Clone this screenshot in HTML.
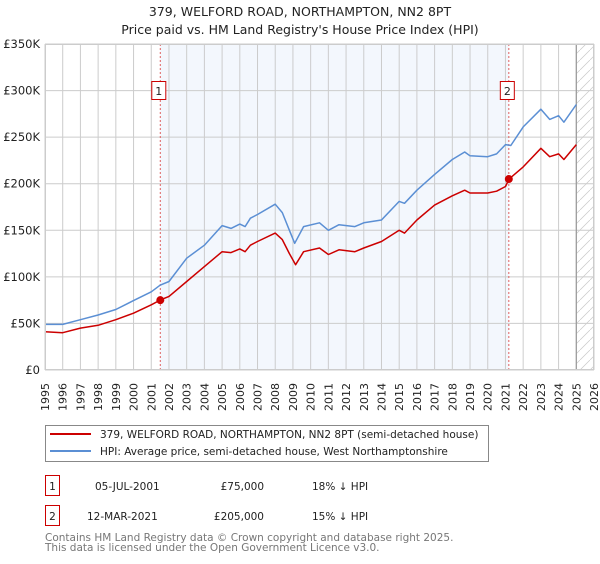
<!DOCTYPE html>
<html><head><meta charset="utf-8"><style>
body{margin:0;background:#fff;font-family:"DejaVu Sans","Liberation Sans",sans-serif;}
svg text{font-family:"DejaVu Sans","Liberation Sans",sans-serif;}
</style></head><body>
<svg id="chart" width="600" height="560" xmlns="http://www.w3.org/2000/svg">
<defs><pattern id="hatch" patternUnits="userSpaceOnUse" width="10" height="10"><path d="M0,10 L10,0" stroke="#c8c8c8" stroke-width="0.7"/></pattern></defs>
<text x="300" y="16" text-anchor="middle" font-size="12.5" fill="#222">379, WELFORD ROAD, NORTHAMPTON, NN2 8PT</text>
<text x="300" y="34" text-anchor="middle" font-size="12.5" fill="#222">Price paid vs. HM Land Registry's House Price Index (HPI)</text>
<g id="plot"></g>
<g id="legend">
<rect x="45.5" y="425.5" width="443" height="36" fill="#fff" stroke="#888"/>
<line x1="50" y1="434" x2="91" y2="434" stroke="#cc0000" stroke-width="2"/>
<text x="100" y="438" font-size="10.5" fill="#222">379, WELFORD ROAD, NORTHAMPTON, NN2 8PT (semi-detached house)</text>
<line x1="50" y1="451" x2="91" y2="451" stroke="#5b8fd4" stroke-width="2"/>
<text x="100" y="455" font-size="10.5" fill="#222">HPI: Average price, semi-detached house, West Northamptonshire</text>
</g>
<g font-size="10.5" fill="#222">
<rect x="45.5" y="475.5" width="14" height="20" fill="#fff" stroke="#cc0000"/>
<text x="52.5" y="490" text-anchor="middle">1</text>
<text x="95" y="490">05-JUL-2001</text>
<text x="264" y="490" text-anchor="end">£75,000</text>
<text x="312" y="490">18% ↓ HPI</text>
</g>
<g font-size="10.5" fill="#222">
<rect x="45.5" y="505.5" width="14" height="20" fill="#fff" stroke="#cc0000"/>
<text x="52.5" y="520" text-anchor="middle">2</text>
<text x="87" y="520">12-MAR-2021</text>
<text x="264" y="520" text-anchor="end">£205,000</text>
<text x="312" y="520">15% ↓ HPI</text>
</g>
<text x="45" y="541" font-size="10.5" fill="#777">Contains HM Land Registry data © Crown copyright and database right 2025.</text>
<text x="45" y="551" font-size="10.5" fill="#777">This data is licensed under the Open Government Licence v3.0.</text>
</svg>
<script>
const years=[1995,1996,1997,1998,1999,2000,2001,2002,2003,2004,2005,2006,2007,2008,2009,2010,2011,2012,2013,2014,2015,2016,2017,2018,2019,2020,2021,2022,2023,2024,2025,2026];
const yTicks=[0,50000,100000,150000,200000,250000,300000,350000];
const yTickLabels=["£0","£50K","£100K","£150K","£200K","£250K","£300K","£350K"];
const hpiDates=[1995,1996,1997,1998,1999,2000,2001,2001.5,2002,2003,2004,2005,2005.5,2006,2006.3,2006.6,2007,2008,2008.4,2008.8,2009.1,2009.6,2010.5,2011,2011.6,2012.5,2013,2014,2015,2015.3,2016,2017,2018,2018.7,2019,2020,2020.5,2021,2021.3,2022,2023,2023.5,2024,2024.3,2025];
const hpiValues=[49000,49000,54000,59000,65000,74500,84000,91000,95000,120000,134000,155000,152000,156600,154000,163000,167000,178000,169000,150000,136000,154000,158000,150000,156000,154000,158000,161000,181000,179000,193000,210000,226000,234000,230000,229000,232000,242000,241000,261000,280000,269000,273000,266000,285000];
const priceDates=[1995,1996,1997,1998,1999,2000,2001,2001.5,2002,2003,2004,2005,2005.5,2006,2006.3,2006.6,2007,2008,2008.4,2008.8,2009.15,2009.6,2010.5,2011,2011.6,2012.5,2013,2014,2015,2015.3,2016,2017,2018,2018.7,2019,2020,2020.5,2021,2021.2,2022,2023,2023.5,2024,2024.3,2025];
const priceValues=[41000,40000,45000,48000,54000,61000,70000,75000,79000,95000,111000,127000,126000,130000,127000,134000,138000,147000,140000,125000,113000,127000,131000,124000,129000,127000,131000,138000,150000,147000,161000,177000,187000,193000,190000,190000,192000,197000,205000,218000,238000,229000,232000,226000,242000];
const saleDates=[2001.51,2021.19];
const saleValues=[75000,205000];
const saleLabels=["1","2"];

const X0=45,X1=594,Y0=370,Y1=44;
const xs=y=>X0+(y-1995)/(2026-1995)*(X1-X0);
const ys=v=>Y0-v/350000*(Y0-Y1);
const NS="http://www.w3.org/2000/svg";
const g=document.getElementById('plot');
function mk(tag,attrs,parent){const e=document.createElementNS(NS,tag);for(const k in attrs)e.setAttribute(k,attrs[k]);(parent||g).appendChild(e);return e;}

const bg=mk('rect',{x:X0,y:Y1,width:X1-X0,height:Y0-Y1,fill:'#fff'});


const shade=mk('rect',{x:xs(saleDates[0]),y:Y1,width:xs(saleDates[1])-xs(saleDates[0]),height:Y0-Y1,fill:'#eef3fc',opacity:0.7});


const hatch=mk('rect',{x:xs(2025),y:Y1,width:X1-xs(2025),height:Y0-Y1,fill:'url(#hatch)'});



years.forEach(yr=>{
  const l=mk('line',{x1:xs(yr),x2:xs(yr),y1:Y1,y2:Y0,stroke:'#ccc','stroke-width':1});
  
  
  const t=mk('text',{x:0,y:0,'font-size':11,fill:'#222','text-anchor':'end',transform:`translate(${xs(yr)+4},383) rotate(-90)`});
  t.textContent=yr;
  
  
});
yTicks.forEach((v,i)=>{
  const l=mk('line',{x1:X0,x2:X1,y1:ys(v),y2:ys(v),stroke:'#ccc','stroke-width':1});
  
  
  const t=mk('text',{x:X0-5,y:ys(v)+4,'font-size':11.5,fill:'#222','text-anchor':'end'});
  t.textContent=yTickLabels[i];
  
  
});
const ed=mk('line',{x1:xs(2025),x2:xs(2025),y1:Y1,y2:Y0,stroke:'#999','stroke-width':1.2});



saleDates.forEach((d,i)=>{
  const l=mk('line',{x1:xs(d),x2:xs(d),y1:Y1,y2:Y0,stroke:'#e06060','stroke-width':1,'stroke-dasharray':'2,2'});
  
  
});
function path(dates,vals,color,name){
  const d=dates.map((t,i)=>(i?'L':'M')+xs(t).toFixed(1)+','+ys(vals[i]).toFixed(1)).join(' ');
  const p=mk('path',{d:d,fill:'none',stroke:color,'stroke-width':1.5,'stroke-linejoin':'round'});
  
  
}
path(hpiDates,hpiValues,'#5b8fd4','hpi-line');
path(priceDates,priceValues,'#cc0000','price-line');
saleDates.forEach((d,i)=>{
  const c=mk('circle',{cx:xs(d),cy:ys(saleValues[i]),r:4,fill:'#cc0000'});
  
  
  const bx=xs(d)-9;
  const r=mk('rect',{x:bx+0.5,y:81.5,width:14,height:18,fill:'#fff',stroke:'#cc0000'});
  
  
  const t=mk('text',{x:bx+7.5,y:95,'font-size':11,fill:'#222','text-anchor':'middle'});
  t.textContent=saleLabels[i];
  
  
});
const fr=mk('rect',{x:X0+0.5,y:Y1+0.5,width:X1-X0-1,height:Y0-Y1-1,fill:'none',stroke:'#ccc'});


</script>
</body></html>
